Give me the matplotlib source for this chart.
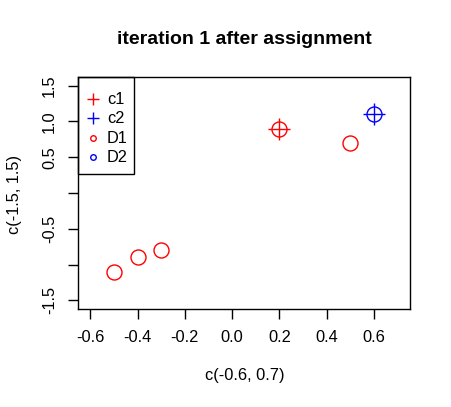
import matplotlib
matplotlib.use("Agg")
import matplotlib.pyplot as plt
from matplotlib.patches import Rectangle

plt.rcParams['font.family'] = ['Liberation Sans', 'DejaVu Sans']

# data
d1_x = [0.2, 0.5, -0.5, -0.4, -0.3]
d1_y = [0.9, 0.7, -1.1, -0.9, -0.8]
d2_x = [0.6]
d2_y = [1.1]
c1 = (0.2, 0.9)
c2 = (0.6, 1.1)
xticks = [-0.6, -0.4, -0.2, 0.0, 0.2, 0.4, 0.6]
yticks = [-1.5, -1.0, -0.5, 0.0, 0.5, 1.0, 1.5]
ytick_labels = ['-1.5', '', '-0.5', '', '0.5', '1.0', '1.5']
legend_labels = ['c1', 'c2', 'D1', 'D2']
legend_colors = ['red', 'blue', 'red', 'blue']
legend_markers = ['+', '+', 'o', 'o']

fig = plt.figure(figsize=(4.51, 4.07), dpi=100)
ax = fig.add_axes([78/451, 1-309/407, (410-78)/451, (309-77)/407])

ax.plot(d1_x, d1_y, 'o', mfc='none', mec='red', ms=10.8, mew=1.0, ls='none')
ax.plot(d2_x, d2_y, 'o', mfc='none', mec='blue', ms=10.8, mew=1.0, ls='none')
ax.plot([c1[0]], [c1[1]], '+', color='red', ms=16, mew=1.0)
ax.plot([c2[0]], [c2[1]], '+', color='blue', ms=16, mew=1.0)

ax.set_xlim(-0.652, 0.752)
ax.set_ylim(-1.62, 1.62)
ax.set_xticks(xticks)
ax.set_xticklabels(['%.1f' % v for v in xticks])
ax.set_yticks(yticks)
ax.set_yticklabels(ytick_labels, rotation=90, va='center')
ax.tick_params(length=7.2, width=1.0, labelsize=11.8, pad=8)
for s in ax.spines.values():
    s.set_linewidth(1.0)

fig.text(244/451, 1-40/407, 'iteration 1 after assignment', ha='center', va='center',
         fontsize=14, fontweight='bold')
fig.text(244.5/451, 1-375.5/407, 'c(-0.6, 0.7)', ha='center', va='center', fontsize=11.8)
fig.text(15/451, 1-195/407, 'c(-1.5, 1.5)', ha='center', va='center', fontsize=11.8, rotation=90)

# legend box (drawn by hand like R's legend())
ax.add_patch(Rectangle((0, 0.582), 0.1687, 0.418, transform=ax.transAxes,
                       fill=False, edgecolor='black', lw=1.0, clip_on=False, zorder=5))
rows_y = [0.905, 0.823, 0.737, 0.655]
for lab, col, mk, yy in zip(legend_labels, legend_colors, legend_markers, rows_y):
    if mk == '+':
        ax.plot([0.045], [yy], '+', color=col, ms=8.5, mew=1.0, transform=ax.transAxes, clip_on=False)
    else:
        ax.plot([0.045], [yy], 'o', mfc='none', mec=col, ms=4.0, mew=1.0, transform=ax.transAxes, clip_on=False)
    ax.text(0.087, yy, lab, transform=ax.transAxes, ha='left', va='center', fontsize=11.8)

fig.savefig('out.png', dpi=100)
